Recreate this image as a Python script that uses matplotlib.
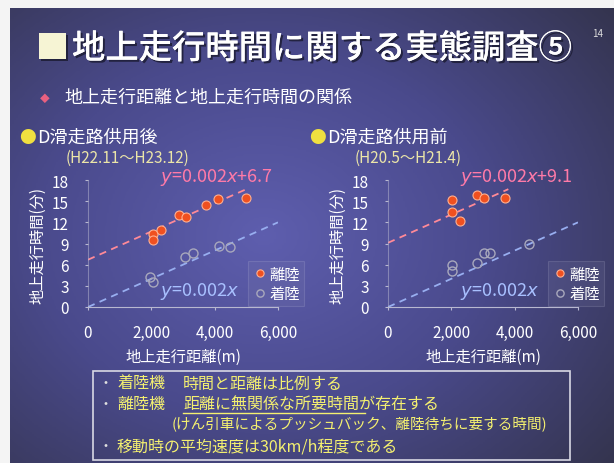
import matplotlib
matplotlib.use('Agg')
import matplotlib.pyplot as plt
import matplotlib.patheffects as pe
import numpy as np
from matplotlib.patches import Rectangle
from matplotlib.colors import LinearSegmentedColormap

plt.rcParams['font.family'] = ['Noto Sans CJK JP', 'DejaVu Sans']

# after D runway opened (H22.11 - H23.12)
after_dep_x = [2040, 2050, 2290, 2860, 3110, 3740, 4110, 4990]
after_dep_y = [10.3, 9.5, 10.9, 13.0, 12.7, 14.5, 15.3, 15.4]
after_arr_x = [1960, 2040, 3060, 3320, 4140, 4480]
after_arr_y = [4.3, 3.5, 7.1, 7.6, 8.7, 8.5]

# before D runway opened (H20.5 - H21.4)
before_dep_x = [2010, 2010, 2280, 2810, 3040, 3710]
before_dep_y = [15.1, 13.5, 12.2, 15.9, 15.5, 15.4]
before_arr_x = [2010, 2010, 2810, 3020, 3230, 4450]
before_arr_y = [5.9, 5.1, 6.2, 7.6, 7.6, 9.0]

slope = 0.002
after_icept = 6.7
before_icept = 9.1

xticks = [0, 2000, 4000, 6000]
xtick_labels = ['0', '2,000', '4,000', '6,000']
yticks = [0, 3, 6, 9, 12, 15, 18]

W, H = 614, 464
fig = plt.figure(figsize=(W / 100, H / 100), dpi=100, facecolor='#f4f4f4')


def px(x, y):
    return x / W, 1 - y / H


# slide background
bg = fig.add_axes([10 / W, 0, 1 - 10 / W, 1 - 9 / H])
bg.set_axis_off()
gx, gy = np.meshgrid(np.linspace(0, 1, 300), np.linspace(0, 1, 240))
r = np.sqrt(((gx - 0.42) / 0.75) ** 2 + ((gy - 0.5) / 0.8) ** 2)
cmap = LinearSegmentedColormap.from_list('bg', ['#5e5eae', '#4a4a8c', '#34344e'])
bg.imshow(np.clip(r, 0, 1), cmap=cmap, aspect='auto', extent=[0, 1, 0, 1], vmin=0, vmax=1)
bg.set_xlim(0, 1)
bg.set_ylim(0, 1)

shadow = [pe.withSimplePatchShadow(offset=(1.5, -1.5), shadow_rgbFace='#1a1a30', alpha=0.8), pe.Normal()]

# title
fig.text(*px(36, 50), '■', color='#f6f4d4', fontsize=24, va='center', ha='left', path_effects=shadow)
fig.text(*px(72, 50), '地上走行時間に関する実態調査⑤', color='white', fontsize=24,
         fontweight='medium', va='center', ha='left', path_effects=shadow)
fig.text(*px(598, 34), '14', color='#dddddd', fontsize=7, style='italic', ha='center', va='center')
fig.text(*px(45, 99), '◆', color='#e86080', fontsize=7, ha='center', va='center')
fig.text(*px(64, 98), '地上走行距離と地上走行時間の関係', color='white', fontsize=13, va='center')

headers = [(27, 'D滑走路供用後', '(H22.11～H23.12)', 66),
           (317, 'D滑走路供用前', '(H20.5～H21.4)', 355)]
for hx, htxt, hsub, sx in headers:
    fig.text(*px(hx, 139), '●', color='#f0e040', fontsize=12, ha='center', va='center')
    fig.text(*px(hx + 10, 138), htxt, color='white', fontsize=13, va='center')
    fig.text(*px(sx, 158), hsub, color='#ece6a8', fontsize=11, va='center')

panels = [
    (88, after_dep_x, after_dep_y, after_arr_x, after_arr_y, after_icept, 5000, '+6.7', 248),
    (388, before_dep_x, before_dep_y, before_arr_x, before_arr_y, before_icept, 3800, '+9.1', 548),
]

for left, dx, dy, ax_x, ax_y, icept, xend, eq, legx in panels:
    ax = fig.add_axes([left / W, (H - 308) / H, 190 / W, 127 / H])
    ax.patch.set_alpha(0)
    ax.set_xlim(0, 6000)
    ax.set_ylim(0, 18)
    for s in ['top', 'right']:
        ax.spines[s].set_visible(False)
    for s in ['left', 'bottom']:
        ax.spines[s].set_color('#b8b8d0')
        ax.spines[s].set_linewidth(0.8)
    ax.spines['left'].set_alpha(0.5)
    ax.set_xticks(xticks)
    ax.set_xticklabels(xtick_labels)
    ax.set_yticks(yticks)
    ax.tick_params(colors='#b8b8d0', labelcolor='white', labelsize=11, length=2)
    ax.tick_params(axis='x', pad=10)
    ax.tick_params(axis='y', pad=12)

    lx = np.array([0, xend])
    ax.plot(lx, slope * lx + icept, ls='--', color='#ff8a98', lw=1.3, dashes=(4, 3))
    lx2 = np.array([0, 6000])
    ax.plot(lx2, slope * lx2, ls='--', color='#98aef0', lw=1.3, dashes=(4, 3))

    ax.plot(dx, dy, 'o', ms=6.5, mfc='#f05020', mec='#ffb090', mew=0.8, ls='none', label='離陸')
    ax.plot(ax_x, ax_y, 'o', ms=6.5, mfc='none', mec='#a8a8bc', mew=1.0, ls='none', label='着陸')

    leg = ax.legend(loc='upper left', bbox_to_anchor=px(legx, 262), bbox_transform=fig.transFigure,
                    fontsize=11, handletextpad=0.1, handlelength=1.0, borderpad=0.3,
                    labelspacing=0.15, fancybox=False, framealpha=0.15, borderaxespad=0,
                    markerscale=0.8)
    leg.get_frame().set_facecolor('#8888b0')
    leg.get_frame().set_edgecolor('#e0e0f0')
    leg.get_frame().set_linewidth(0.8)
    for t in leg.get_texts():
        t.set_color('white')

    fig.text(*px(left + 72, 178), r'$y$=0.002$x$' + eq, color='#ff7aa8', fontsize=13, va='center')
    fig.text(*px(left + 72, 291), r'$y$=0.002$x$', color='#a8c0ff', fontsize=13, va='center')
    fig.text(*px(left - 50, 245), '地上走行時間(分)', color='white', fontsize=11,
             rotation=90, ha='center', va='center')
    fig.text(*px(left + 95, 357), '地上走行距離(m)', color='white', fontsize=11,
             ha='center', va='center')

# bottom summary box
box = Rectangle(px(93, 461), 477 / W, 89 / H, transform=fig.transFigure,
                fill=False, edgecolor='#d8d8e4', lw=1.2)
fig.patches.append(box)
yel = '#f4f070'
lines = [
    (384, '着陸機', '時間と距離は比例する'),
    (405, '離陸機', '距離に無関係な所要時間が存在する'),
    (447, '移動時の平均速度は30km/h程度である', None),
]
for ly, a, b in lines:
    fig.text(*px(106, ly), '・', color='#e0e0e0', fontsize=10, ha='center', va='center')
    fig.text(*px(117, ly), a, color=yel, fontsize=11.5, va='center')
    if b:
        fig.text(*px(183, ly), b, color=yel, fontsize=11.5, va='center')
fig.text(*px(172, 425), '(けん引車によるプッシュバック、離陸待ちに要する時間)', color=yel,
         fontsize=10.5, va='center')
fig.lines.append(plt.Line2D([183 / W, 365 / W], [1 - 414 / H, 1 - 414 / H],
                            transform=fig.transFigure, color=yel, lw=1))

fig.savefig('out.png', dpi=100, facecolor=fig.get_facecolor())
